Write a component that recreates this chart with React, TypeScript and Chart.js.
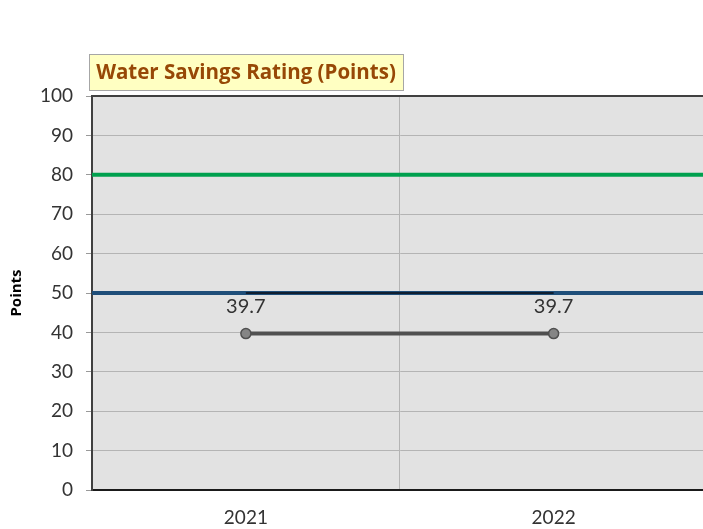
import React, { useEffect, useRef } from "react";
import { Chart, registerables } from "chart.js";

Chart.register(...registerables);

const categories = ["2021", "2022"];
const ratingValues = [39.7, 39.7];
const targetValues = [50, 50];
const referenceValues = [80, 50];
const referenceColors = ["#00a04e", "#1f4e79"];
const yTicks = [0, 10, 20, 30, 40, 50, 60, 70, 80, 90, 100];
const chartTitle = "Water Savings Rating (Points)";
const yAxisTitle = "Points";

const FONT = "Lato, 'Open Sans', sans-serif";
const TITLE_FONT = "'Open Sans', Lato, sans-serif";

const overlayPlugin = {
  id: "overlay",
  beforeDatasetsDraw(chart: any) {
    const { ctx, chartArea, scales } = chart;
    ctx.save();
    referenceValues.forEach((v, i) => {
      const y = scales.y.getPixelForValue(v);
      ctx.strokeStyle = referenceColors[i];
      ctx.lineWidth = 4;
      ctx.beginPath();
      ctx.moveTo(chartArea.left, y);
      ctx.lineTo(chartArea.right, y);
      ctx.stroke();
    });
    ctx.restore();
  },
  afterDraw(chart: any) {
    const { ctx, chartArea } = chart;
    ctx.save();
    ctx.strokeStyle = "#404040";
    ctx.lineWidth = 2;
    ctx.beginPath();
    ctx.moveTo(chartArea.left, chartArea.top);
    ctx.lineTo(chartArea.right, chartArea.top);
    ctx.stroke();

    const meta = chart.getDatasetMeta(0);
    ctx.fillStyle = "#333333";
    ctx.font = `20px ${FONT}`;
    ctx.textAlign = "center";
    ctx.textBaseline = "middle";
    meta.data.forEach((pt: any, i: number) => {
      ctx.fillText(ratingValues[i].toFixed(1), pt.x, pt.y - 27);
    });

    const bx = 89, by = 54, bw = 314, bh = 36;
    ctx.fillStyle = "#ffffc2";
    ctx.fillRect(bx, by, bw, bh);
    ctx.strokeStyle = "#a6a6a6";
    ctx.lineWidth = 1;
    ctx.strokeRect(bx + 0.5, by + 0.5, bw, bh);
    ctx.fillStyle = "#974806";
    ctx.font = `bold 20.5px ${TITLE_FONT}`;
    ctx.textAlign = "center";
    ctx.textBaseline = "middle";
    ctx.fillText(chartTitle, bx + bw / 2, by + bh / 2 + 1);
    ctx.restore();
  },
};

const bgPlugin = {
  id: "plotBg",
  beforeDraw(chart: any) {
    const { ctx, chartArea } = chart;
    ctx.save();
    ctx.fillStyle = "#e2e2e2";
    ctx.fillRect(chartArea.left, chartArea.top, chartArea.right - chartArea.left, chartArea.bottom - chartArea.top);
    ctx.restore();
  },
};

export default function App() {
  const ref = useRef<HTMLCanvasElement>(null);
  useEffect(() => {
    if (!ref.current) return;
    const chart = new Chart(ref.current, {
      type: "line",
      data: {
        labels: categories,
        datasets: [
          {
            label: "Rating",
            data: ratingValues,
            borderColor: "#505050",
            borderWidth: 4,
            pointRadius: 5,
            pointBackgroundColor: "#858585",
            pointBorderColor: "#505050",
            pointBorderWidth: 1.5,
            order: 0,
          },
          {
            label: "Target",
            data: targetValues,
            borderColor: "#0f1e30",
            borderWidth: 2,
            pointRadius: 0,
            order: 1,
          },
        ],
      },
      options: {
        responsive: false,
        animation: false,
        layout: { padding: { top: 96, right: 6, left: 0, bottom: 0 } },
        plugins: {
          legend: { display: false },
          tooltip: { enabled: false },
          title: { display: false },
        },
        scales: {
          x: {
            offset: true,
            grid: { display: true, offset: true, color: "#b4b4b4", lineWidth: 1, drawTicks: false },
            border: { display: true, color: "#1a1a1a", width: 2 },
            ticks: { color: "#333333", font: { family: FONT, size: 19 }, padding: 16 },
            afterFit(scale: any) { scale.height = 39; },
          },
          y: {
            min: 0,
            max: 100,
            afterBuildTicks(scale: any) { scale.ticks = yTicks.map((v) => ({ value: v })); },
            grid: { color: "#b4b4b4", lineWidth: 1, drawTicks: true, tickLength: 6, tickColor: "#999999" },
            border: { display: true, color: "#404040", width: 2 },
            ticks: { color: "#333333", font: { family: FONT, size: 19 }, padding: 13 },
            title: {
              display: true,
              text: yAxisTitle,
              color: "#000000",
              font: { family: TITLE_FONT, size: 15, weight: "bold" },
              padding: { top: 8, bottom: 0 },
            },
            afterFit(scale: any) { scale.width = 92; },
          },
        },
      },
      plugins: [bgPlugin, overlayPlugin],
    });
    return () => chart.destroy();
  }, []);
  return (
    <div style={{ position: "absolute", left: 0, top: 0, width: 703, height: 529, overflow: "hidden", background: "#fff" }}>
      <canvas ref={ref} width={714} height={529} style={{ display: "block" }} />
    </div>
  );
}
